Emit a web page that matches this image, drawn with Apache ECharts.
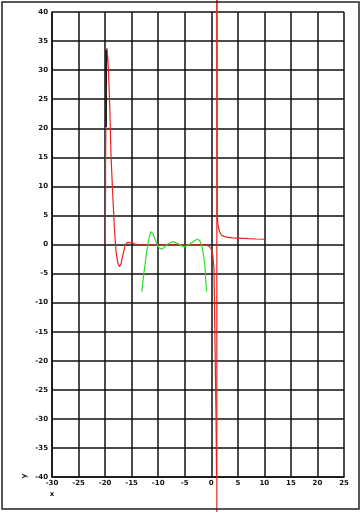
<!DOCTYPE html>
<html><head><meta charset="utf-8">
<script src="https://cdn.jsdelivr.net/npm/echarts@6/dist/echarts.min.js"></script>
<style>html,body{margin:0;padding:0;background:#fff}#c{width:362px;height:512px}</style>
</head><body><div id="c"></div>
<script>
const xTicks = [-30,-25,-20,-15,-10,-5,0,5,10,15,20,25];
const yTicks = [-40,-35,-30,-25,-20,-15,-10,-5,0,5,10,15,20,25,30,35,40];
const redLeft = [
 [-19.95,0],[-19.9,15],[-19.8,28],[-19.65,33.8],[-19.5,32.2],[-19.4,30.5],[-19.25,27],[-19.1,23],
 [-18.9,15.7],[-18.6,9.4],[-18.3,3.7],[-18.1,0.8],[-17.9,-1.5],[-17.6,-3.2],[-17.3,-3.8],
 [-17.0,-3.3],[-16.6,-1.6],[-16.2,-0.1],[-15.8,0.35],[-15.0,0.3],[-14.5,0.1],[-14,-0.1],
 [-12,-0.1],[-10,-0.1],[-8,-0.1],[-6,-0.1],[-4,-0.1],[-2,-0.1],[-1,-0.1],[-0.4,-0.3],
 [0,-0.8],[0.3,-2],[0.5,-4],[0.6,-10],[0.75,-20],[0.9,-30],[1.0,-40],[1.05,-46]
];
const redRight = [
 [1.08,43],[1.1,20],[1.13,4.8],[1.3,3.1],[1.6,2.1],[1.95,1.6],[2.5,1.35],[3.2,1.24],
 [4,1.15],[5.1,1.1],[7,1.0],[8.5,0.95],[10.1,0.9]
];
const green = [
 [-13.1,-8.1],[-12.7,-5],[-12.2,-1.5],[-11.8,0.8],[-11.4,2.2],[-11.0,1.9],[-10.6,0.9],
 [-10.3,0.2],[-9.9,-0.5],[-9.5,-0.8],[-9.0,-0.6],[-8.4,-0.1],[-7.8,0.3],[-7.2,0.5],
 [-6.6,0.3],[-6.0,0.0],[-5.4,-0.3],[-4.95,-0.4],[-4.3,-0.1],[-3.7,0.3],[-3.1,0.7],
 [-2.6,0.9],[-2.2,0.7],[-1.8,-0.1],[-1.5,-1.5],[-1.2,-3.8],[-1.05,-6],[-0.9,-8.1]
];
const blackSeg = [[-19.8,20.2],[-19.8,33.5]];
const asymptote = [[1.05,43],[1.05,-47]];

const chart = echarts.init(document.getElementById('c'));
const lbl = {fontSize:7, fontWeight:'bold', color:'#111', fontFamily:'DejaVu Sans'};
chart.setOption({
  animation:false,
  grid:{left:52,right:18,top:12,bottom:35,containLabel:false},
  xAxis:{type:'value',min:-30,max:25,interval:5,
    axisLine:{onZero:false,lineStyle:{color:'#111',width:1.5}},axisTick:{show:false},
    axisLabel:Object.assign({margin:3,formatter:v=>xTicks.includes(v)?String(v):''},lbl),
    splitLine:{show:true,lineStyle:{color:'#111',width:1.5}}},
  yAxis:{type:'value',min:-40,max:40,interval:5,
    axisLine:{onZero:false,lineStyle:{color:'#111',width:1.5}},axisTick:{show:false},
    axisLabel:Object.assign({margin:4,formatter:v=>yTicks.includes(v)?String(v):''},lbl),
    splitLine:{show:true,lineStyle:{color:'#111',width:1.5}}},
  graphic:[
    {type:'rect',shape:{x:2,y:2,width:357,height:507},style:{fill:'none',stroke:'#222',lineWidth:1.5},z:100},
    {type:'text',x:52,y:494,style:{text:'x',font:'bold 7px DejaVu Sans',fill:'#111',align:'center',verticalAlign:'middle'}},
    {type:'text',x:24,y:476,rotation:Math.PI/2,style:{text:'y',font:'bold 7px DejaVu Sans',fill:'#111',align:'center',verticalAlign:'middle'}}
  ],
  series:[
    {type:'line',data:asymptote,clip:false,symbol:'none',lineStyle:{color:'#e8221e',width:1.2},z:3},
    {type:'line',data:redLeft,symbol:'none',clip:true,lineStyle:{color:'#e8221e',width:1.2},z:4},
    {type:'line',data:redRight,symbol:'none',clip:false,lineStyle:{color:'#e8221e',width:1.2},z:4},
    {type:'line',data:green,symbol:'none',lineStyle:{color:'#2ede2e',width:1.2},z:5},
    {type:'line',data:blackSeg,symbol:'none',lineStyle:{color:'#111',width:1.5},z:6}
  ]
});
</script></body></html>
